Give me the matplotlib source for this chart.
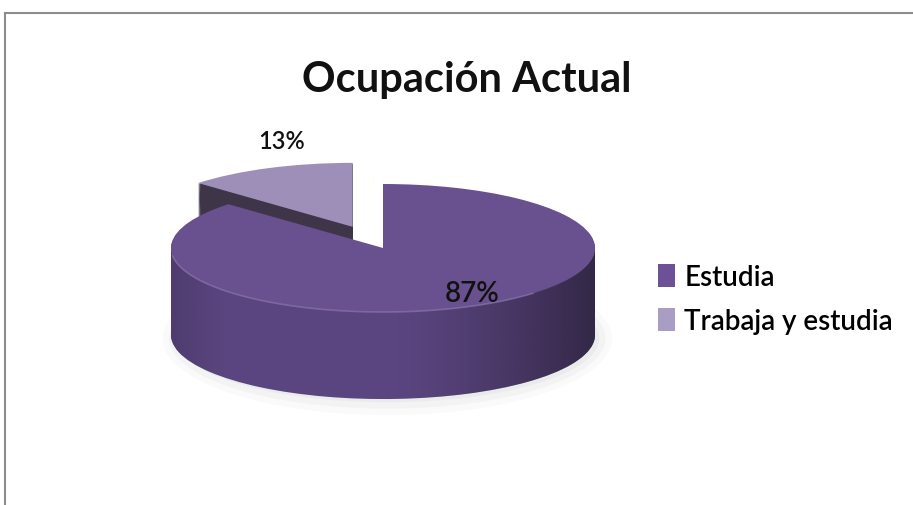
import numpy as np
import matplotlib
matplotlib.use("Agg")
import matplotlib.pyplot as plt
from matplotlib.patches import Patch, Polygon, Ellipse
from matplotlib.lines import Line2D

# data
labels = ["Estudia", "Trabaja y estudia"]
values = [87, 13]
pct_labels = ["87%", "13%"]
explode = [0, 0.36]

# colours
top_colors = ["#69508e", "#9d8fb8"]
side_colors = ["#5b4580", "#3e3549"]
legend_colors = ["#6d5196", "#a99dc4"]

fonts = ["Liberation Sans Narrow", "Lato", "DejaVu Sans"]

W, H = 913, 506
fig = plt.figure(figsize=(W / 100, H / 100), dpi=100)
fig.patch.set_facecolor("white")

# frame lines of the original chart area
fig.add_artist(Line2D([5 / W, 1], [1 - 14 / H, 1 - 14 / H], color="#8c8c8c", lw=1.5))
fig.add_artist(Line2D([5 / W, 5 / W], [0, 1 - 14 / H], color="#8c8c8c", lw=1.5))

# pie axes: 1 x-unit = 212 px, 1 y-unit = 64 px, centre at (383, 249)
cx, cy, ux, uy = 383, 249, 212, 64
xr, yr = (-1.2, 1.2), (-3.0, 1.5)
ax = fig.add_axes([(cx + xr[0] * ux) / W, (H - (cy - yr[0] * uy)) / H,
                   (xr[1] - xr[0]) * ux / W, (yr[1] - yr[0]) * uy / H])

depth = 1.36  # thickness in y-units
n_layers = 90

# soft shadow
for k, a in enumerate([0.05, 0.04, 0.03]):
    ax.add_patch(Ellipse((0.02, -depth - 0.05), 2.0 + 0.06 * k, 2.0 + 0.2 * k,
                         color="#606060", alpha=a, zorder=0, lw=0))

# side layers
for i in range(n_layers, 0, -1):
    d = depth * i / n_layers
    wedges, _ = ax.pie(values, explode=explode, center=(0, -d), radius=1,
                       startangle=90, counterclock=False, colors=side_colors,
                       wedgeprops=dict(linewidth=0), normalize=True, frame=True)
    wedges[0].set_zorder(3)
    wedges[1].set_zorder(1)

# top faces
wedges, _ = ax.pie(values, explode=explode, center=(0, 0), radius=1,
                   startangle=90, counterclock=False, colors=top_colors,
                   wedgeprops=dict(linewidth=0), normalize=True, frame=True)
wedges[0].set_zorder(4)
wedges[1].set_zorder(2)

# shading gradient on the front side of the big slice
th = np.linspace(np.pi, 2 * np.pi, 200)
band = np.concatenate([np.c_[np.cos(th), np.sin(th)],
                       np.c_[np.cos(th[::-1]), np.sin(th[::-1]) - depth]])
clip = Polygon(band, closed=True, transform=ax.transData, facecolor="none", edgecolor="none")
ax.add_patch(clip)
gx = np.linspace(-1, 1, 256)
alpha = np.clip((gx - 0.05) / 0.95, 0, 1) ** 1.3 * 0.65 + np.clip((-0.75 - gx) / 0.25, 0, 1) * 0.2
grad = np.zeros((1, 256, 4))
grad[..., :3] = matplotlib.colors.to_rgb("#1e1828")
grad[..., 3] = alpha
im = ax.imshow(grad, extent=(-1, 1, -1 - depth, 0), aspect="auto", zorder=3.5,
               interpolation="bilinear")
im.set_clip_path(clip)

# light rim along the front top edge
th2 = np.linspace(np.pi * 1.04, np.pi * 1.75, 120)
ax.plot(np.cos(th2), np.sin(th2), color="#8a74ad", lw=1.2, alpha=0.7, zorder=4.5)

ax.set_xlim(*xr)
ax.set_ylim(*yr)
ax.set_aspect("auto")
ax.axis("off")

# percentage labels
fig.text(472 / W, 1 - 294 / H, pct_labels[0], fontsize=20, family=fonts, weight="semibold",
         ha="center", va="center", color="#111111")
fig.text(282 / W, 1 - 142 / H, pct_labels[1], fontsize=17, family=fonts, weight="semibold",
         ha="center", va="center", color="#111111")

# title
fig.text(467 / W, 1 - 80 / H, "Ocupación Actual", fontsize=30, family=fonts, weight="bold",
         ha="center", va="center", color="#111111")

# legend
handles = [Patch(facecolor=c, edgecolor="none") for c in legend_colors]
leg = fig.legend(handles, labels, loc="center left", bbox_to_anchor=(658 / W, 1 - 300 / H),
                 frameon=False, handlelength=0.6, handleheight=0.9, handletextpad=0.35,
                 labelspacing=0.65, borderpad=0, borderaxespad=0,
                 prop=dict(family=fonts, size=20, weight="semibold"))

fig.savefig("out.png", dpi=100)
